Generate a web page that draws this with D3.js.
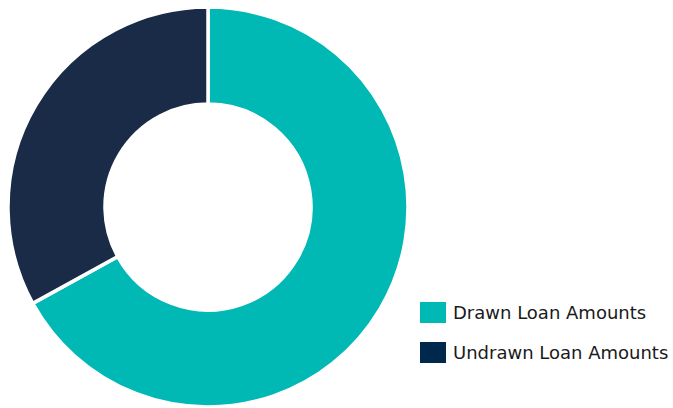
<!DOCTYPE html>
<html><head><meta charset="utf-8">
<script src="https://cdn.jsdelivr.net/npm/d3@7"></script>
<style>body{margin:0;background:#fff}</style>
</head><body>
<svg id="chart" width="673" height="408"></svg>
<script>
const categories = ["Drawn Loan Amounts", "Undrawn Loan Amounts"];
const values = [67, 33];
const colors = ["#00b8b4", "#192b47"];
const legendColors = ["#00b8b4", "#00284d"];

const svg = d3.select("#chart");
const cx = 208, cy = 207, outerR = 200, innerR = 103;
const pie = d3.pie().sort(null)(values);
const arc = d3.arc().innerRadius(innerR).outerRadius(outerR);
const g = svg.append("g").attr("transform", `translate(${cx},${cy})`);
g.selectAll("path").data(pie).enter().append("path")
  .attr("d", arc)
  .attr("fill", (d, i) => colors[i])
  .attr("stroke", "#fff").attr("stroke-width", 3.5);

const leg = svg.append("g").attr("transform", "translate(420,302)");
const item = leg.selectAll("g").data(categories).enter().append("g")
  .attr("transform", (d, i) => `translate(0,${i * 40})`);
item.append("rect").attr("width", 26).attr("height", 21).attr("fill", (d, i) => legendColors[i]);
item.append("text").attr("x", 33).attr("y", 16.7)
  .style("font-family", "'DejaVu Sans', sans-serif").style("font-size", "18px").attr("fill", "#1a1a1a")
  .text(d => d);
</script>
</body></html>
